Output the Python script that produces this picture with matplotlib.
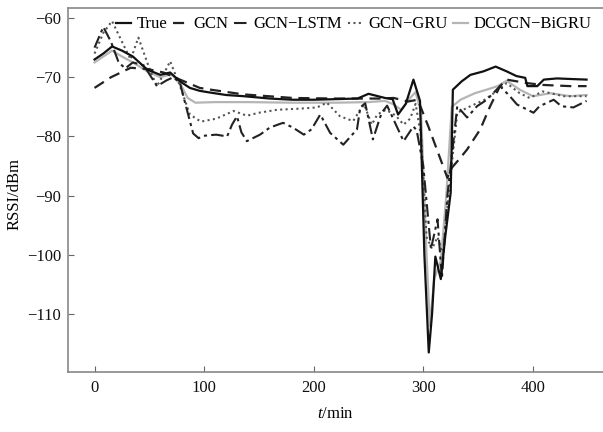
import matplotlib
matplotlib.use("Agg")
import matplotlib.pyplot as plt

plt.rcParams['font.family'] = ['Liberation Serif', 'DejaVu Serif']
plt.rcParams['mathtext.fontset'] = 'custom'
plt.rcParams['mathtext.rm'] = 'Liberation Serif'
plt.rcParams['mathtext.it'] = 'Liberation Serif:italic'

# ---- data ----
t_true = [0, 8, 16, 25, 35, 48, 60, 69, 78, 87, 96, 106, 120, 136, 160, 181, 200, 220, 240, 250,
          265, 272, 277, 284, 291, 297, 301, 305, 308, 311, 316, 320, 325, 327, 335, 343, 355, 366,
          376, 385, 393, 395, 404, 410, 422, 435, 449]
y_true = [-67, -66, -64.8, -65.5, -66.5, -68.7, -69.6, -69.2, -70.7, -71.8, -72.3, -72.6, -73, -73.2,
          -73.6, -73.8, -73.8, -73.7, -73.6, -72.8, -73.5, -73.7, -76.3, -74.5, -70.4, -74, -100,
          -116.5, -110, -100.3, -104.1, -97, -89.5, -72.1, -70.7, -69.6, -69.0, -68.2, -69.0, -69.8,
          -70.1, -71.5, -71.5, -70.4, -70.2, -70.3, -70.4]

t_gcn = [0, 15, 33, 48, 63, 78, 96, 106, 136, 181, 220, 260, 273, 286, 295, 305, 315, 322, 326, 333,
         340, 352, 361, 370, 376, 395, 409, 434, 449]
y_gcn = [-71.8, -70, -68.4, -68.6, -69.2, -70.4, -71.8, -72.1, -72.9, -73.5, -73.6, -73.6, -73.5,
         -74.1, -73.8, -78.5, -83.5, -87, -85.3, -83.8, -82.2, -78.8, -74.9, -71.5, -70.4, -71.0,
         -71.3, -71.5, -71.5]

t_lstm = [0, 8, 15, 22, 28, 35, 45, 57, 66, 72, 78, 85, 90, 95, 99, 111, 121, 125.5, 130, 134,
          139, 151, 160, 172, 181, 191, 198, 206, 215, 227, 239.5, 242.5, 247, 254, 262, 267, 273,
          282, 291, 294, 300, 307, 313, 317, 322, 328, 331, 340, 349, 358, 370, 379, 385.5, 400.6,
          406, 419, 426, 437, 449]
y_lstm = [-65, -61.5, -64, -67.5, -68.5, -67.5, -68, -71.5, -70.5, -70, -71, -76, -79.5, -80.3,
          -79.9, -79.7, -80, -78, -76.6, -79.3, -80.8, -79.7, -78.5, -77.7, -78.5, -79.7, -78.8,
          -76.3, -79.4, -81.4, -78.8, -75.1, -74.4, -80.5, -76, -74.8, -77.2, -80.8, -78.3, -79,
          -85, -99, -94, -104, -90, -80, -74.9, -76.8, -74.9, -73.8, -71.5, -73.2, -74.6, -76,
          -74.9, -73.8, -74.9, -75.1, -74]

t_gru = [0, 8, 16, 25, 33, 40, 51, 57, 63, 69, 78, 87, 97, 111, 127, 139, 150, 166.5, 188, 203,
         212, 224, 236, 242.5, 246, 253, 258, 266, 275, 282, 288, 293, 298, 303, 308, 313, 318,
         323, 331, 343, 356, 368, 376, 388, 397, 409, 428, 449]
y_gru = [-66, -62.5, -60.5, -64, -67, -63.3, -69, -71.5, -69.5, -67.3, -71.5, -76.3, -77.5, -77,
         -75.7, -76.5, -76, -75.5, -75.3, -75.1, -74.3, -76.6, -77.4, -75.5, -74.6, -78, -76.3,
         -75.5, -76.5, -78, -77, -74.5, -80, -97, -99, -97, -100, -90, -76, -74.9, -73.8, -72.2,
         -71.0, -72.7, -73.5, -72.4, -73.2, -73.2]

t_bigru = [0, 8, 16, 25, 35, 48, 60, 70, 78, 85, 92, 110, 140, 180, 220, 250, 265, 272, 280, 288,
           293, 298, 303, 306, 310, 316, 321, 326, 334, 347, 356, 368, 376, 388, 400, 416, 434, 449]
y_bigru = [-67.5, -66.5, -65.5, -66.5, -67.5, -69, -70, -69.5, -71, -73.5, -74.3, -74.2, -74.2,
           -74.3, -74.3, -74.2, -74, -74.5, -75.5, -73.5, -72.5, -76, -100, -112, -104, -101, -90,
           -75, -73.8, -72.7, -72.2, -71.5, -70.6, -72.1, -73.2, -72.7, -73.2, -73]

labels = ['True', 'GCN', 'GCN\u2212LSTM', 'GCN\u2212GRU', 'DCGCN\u2212BiGRU']
x_ticks = [0, 100, 200, 300, 400]
y_ticks = [-110, -100, -90, -80, -70, -60]

# ---- figure ----
fig = plt.figure(figsize=(6.03, 4.32), dpi=100)
ax = fig.add_axes([0.1128, 0.1389, 0.8872, 0.8426])

ax.plot(t_bigru, y_bigru, color='#b5b5b5', lw=1.6, label=labels[4], zorder=2)
ax.plot(t_gru, y_gru, color='#555555', lw=1.5, linestyle=(0, (1, 1.6)), label=labels[3], zorder=3)
ax.plot(t_lstm, y_lstm, color='#222222', lw=1.5, linestyle=(0, (6, 2, 1.5, 2)), label=labels[2], zorder=3)
ax.plot(t_gcn, y_gcn, color='#222222', lw=1.6, linestyle=(0, (5, 3)), label=labels[1], zorder=4)
ax.plot(t_true, y_true, color='#111111', lw=1.6, label=labels[0], zorder=5)

ax.set_xlim(-24.2, 464)
ax.set_ylim(-119.8, -58.3)
ax.set_xticks(x_ticks)
ax.set_yticks(y_ticks)
ax.tick_params(direction='in', length=4, width=0.8, colors='#666666', labelcolor='#111111',
               labelsize=12)
ax.tick_params(axis='x', pad=6)
ax.tick_params(axis='y', pad=5)
for s in ['left', 'top', 'bottom']:
    ax.spines[s].set_color('#888888')
    ax.spines[s].set_linewidth(1.2)
ax.spines['right'].set_visible(False)

ax.set_ylabel('RSSI/dBm', fontsize=12)
ax.yaxis.set_label_coords(-0.085, 0.49)
ax.set_xlabel(r'$t$/min', fontsize=12, labelpad=7)

handles, labs = ax.get_legend_handles_labels()
order = [4, 3, 2, 1, 0]
leg = ax.legend([handles[i] for i in order], [labs[i] for i in order], ncol=5, frameon=False,
                loc='upper left', bbox_to_anchor=(0.078, 0.995), handlelength=0.9,
                handletextpad=0.3, columnspacing=0.35, fontsize=12, borderaxespad=0)

fig.savefig('out.png', dpi=100)
